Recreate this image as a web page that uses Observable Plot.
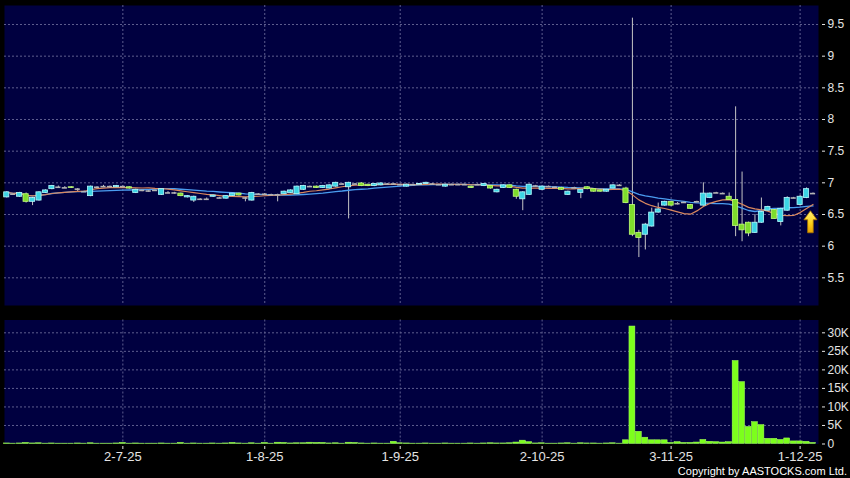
<!DOCTYPE html>
<html>
<head>
<meta charset="utf-8">
<script src="https://cdn.jsdelivr.net/npm/d3@7"></script>
<script src="https://cdn.jsdelivr.net/npm/@observablehq/plot@0.6"></script>
<style>
  html, body { margin: 0; padding: 0; background: #000; }
  #chart { position: relative; width: 850px; height: 478px; background: #000; overflow: hidden; }
  #price, #vol { position: absolute; left: 0; }
  #price { top: 0; }
  #vol { top: 312px; }
  #copy { position: absolute; right: 3px; top: 466px; font: 11px "Liberation Sans", Arial, sans-serif; color: #fff; line-height: 11px; white-space: nowrap; }
</style>
</head>
<body>
<div id="chart">
  <div id="price"></div>
  <div id="vol"></div>
  <div id="copy">Copyright by AASTOCKS.com Ltd.</div>
</div>
<script>
// ---- data (daily candles, index = trading day) ----
const open = [6.77,6.82,6.78,6.82,6.70,6.72,6.84,6.90,6.93,6.92,6.93,6.90,6.86,6.79,6.93,6.94,6.94,6.93,6.94,6.93,
6.84,6.88,6.87,6.88,6.81,6.84,6.84,6.83,6.77,6.72,6.74,6.74,6.78,6.76,6.75,6.79,6.83,6.76,6.72,6.82,
6.82,6.81,6.81,6.82,6.84,6.82,6.89,6.94,6.94,6.92,6.91,6.94,6.98,6.93,6.98,6.99,6.97,6.95,6.96,6.98,
6.98,6.97,6.94,6.97,6.97,6.98,6.98,6.97,6.94,6.97,6.97,6.97,6.94,6.97,6.95,6.95,6.85,6.92,6.96,6.89,
6.74,6.81,6.95,6.89,6.94,6.93,6.92,6.81,6.92,6.84,6.93,6.90,6.88,6.86,6.91,6.96,6.91,6.65,6.21,6.18,
6.31,6.53,6.64,6.70,6.67,6.69,6.65,6.70,6.64,6.76,6.84,6.83,6.78,6.73,6.34,6.37,6.21,6.37,6.56,6.57,
6.38,6.56,6.76,6.65,6.76,6.83];
const high = [6.86,6.83,6.85,6.84,6.77,6.86,6.89,6.96,6.95,6.94,6.94,6.91,6.87,6.95,6.94,6.96,6.95,6.96,6.95,6.94,
6.90,6.89,6.88,6.89,6.91,6.86,6.85,6.84,6.80,6.79,6.75,6.76,6.81,6.77,6.80,6.84,6.84,6.77,6.85,6.83,
6.83,6.82,6.82,6.87,6.89,6.95,6.96,6.95,6.95,6.96,6.97,7.01,6.99,7.01,6.99,7.00,6.98,6.99,7.00,6.99,
6.99,6.98,6.98,6.98,6.99,7.01,6.99,6.98,6.98,6.98,6.98,6.98,6.95,6.98,6.99,6.96,6.90,6.97,6.97,6.90,
6.86,6.98,6.96,6.95,6.95,6.94,6.93,6.87,6.93,6.90,6.94,6.91,6.89,6.90,6.97,6.97,6.93,9.60,6.25,6.36,
6.60,6.68,6.71,6.71,6.69,6.70,6.66,6.71,7.00,6.84,6.85,6.84,6.84,8.20,7.17,6.38,6.50,6.76,6.63,6.58,
6.60,6.78,6.77,6.80,6.92,6.84];
const low = [6.76,6.81,6.77,6.68,6.64,6.71,6.83,6.89,6.92,6.91,6.91,6.85,6.85,6.78,6.92,6.93,6.93,6.92,6.93,6.90,
6.83,6.86,6.85,6.87,6.80,6.83,6.82,6.78,6.76,6.69,6.73,6.72,6.77,6.75,6.74,6.78,6.79,6.70,6.71,6.81,
6.81,6.80,6.70,6.81,6.83,6.81,6.88,6.93,6.91,6.91,6.90,6.93,6.97,6.43,6.97,6.94,6.94,6.94,6.95,6.97,
6.97,6.96,6.93,6.96,6.96,6.97,6.97,6.96,6.93,6.96,6.96,6.96,6.91,6.96,6.94,6.90,6.84,6.91,6.91,6.74,
6.56,6.80,6.94,6.88,6.93,6.92,6.88,6.80,6.91,6.75,6.89,6.85,6.85,6.85,6.90,6.95,6.67,6.15,5.82,5.94,
6.30,6.52,6.63,6.63,6.65,6.68,6.58,6.69,6.63,6.75,6.83,6.82,6.72,6.15,6.07,6.15,6.20,6.36,6.55,6.43,
6.32,6.55,6.75,6.64,6.75,6.82];
const close = [6.85,6.82,6.84,6.70,6.76,6.85,6.88,6.95,6.93,6.92,6.92,6.90,6.86,6.94,6.93,6.94,6.94,6.95,6.94,6.91,
6.89,6.88,6.87,6.88,6.90,6.84,6.84,6.79,6.79,6.78,6.74,6.74,6.80,6.76,6.79,6.83,6.80,6.76,6.84,6.82,
6.82,6.81,6.81,6.86,6.88,6.94,6.95,6.94,6.92,6.95,6.96,7.00,6.98,7.00,6.98,6.95,6.95,6.98,6.99,6.98,
6.98,6.97,6.97,6.97,6.98,7.00,6.98,6.97,6.97,6.97,6.97,6.97,6.92,6.97,6.98,6.91,6.89,6.96,6.92,6.78,
6.85,6.97,6.95,6.94,6.94,6.93,6.89,6.86,6.92,6.89,6.90,6.86,6.86,6.89,6.96,6.96,6.68,6.18,6.13,6.34,
6.53,6.58,6.70,6.64,6.67,6.69,6.59,6.70,6.83,6.83,6.84,6.83,6.73,6.32,6.25,6.20,6.37,6.54,6.62,6.43,
6.59,6.76,6.76,6.78,6.90,6.83];
const volume = [150,100,150,300,150,200,100,150,100,100,100,150,100,200,100,100,100,150,300,100,
150,100,100,100,150,100,100,300,100,150,100,100,150,100,150,300,150,100,200,100,
300,100,350,300,150,200,200,350,300,300,150,200,100,350,300,150,100,150,100,100,
600,200,150,100,100,150,100,100,150,100,100,100,150,100,150,200,150,150,200,400,
900,500,150,200,100,100,150,200,100,200,150,150,100,150,200,100,1000,31700,3300,1700,
1000,1000,1000,300,500,300,300,400,1100,600,500,400,500,22400,16700,4600,5900,5100,1400,1400,
1100,1500,700,700,600,300];

const xTickIndex = [18, 40, 61, 83, 103, 123];
const xTickLabels = ["2-7-25", "1-8-25", "1-9-25", "2-10-25", "3-11-25", "1-12-25"];
const priceTicks = [5.5, 6, 6.5, 7, 7.5, 8, 8.5, 9, 9.5];
const priceTickLabels = ["5.5", "6", "6.5", "7", "7.5", "8", "8.5", "9", "9.5"];
const volTicks = [0, 5000, 10000, 15000, 20000, 25000, 30000];
const volTickLabels = ["0", "5K", "10K", "15K", "20K", "25K", "30K"];
const arrowMark = [{i: 124.6, y: 6.385}];

// ---- build table ----
const data = open.map((o, i) => ({i, open: o, high: high[i], low: low[i], close: close[i], vol: volume[i]}));
const N = data.length;
const xDomain = [-0.35, N - 0.15];

const navy = "#000040";
const gridColor = "#5e5e8e";
const cyanFill = "#3cd4e4", cyanStroke = "#b4fbff";
const greenFill = "#7edc2c", greenStroke = "#c4ff7a";
const wick = "#c4c4c4";
const font = "'Liberation Sans', Arial, sans-serif";

const up = data.filter(d => d.close > d.open);
const down = data.filter(d => d.close < d.open);
const doji = data.filter(d => d.close === d.open);
const hw = 0.4;

const arrowSymbol = {
  draw(ctx, size) {
    const r = Math.sqrt(size / Math.PI);
    const s = r / 11;
    ctx.moveTo(0, -11 * s);
    ctx.lineTo(6.5 * s, -2 * s);
    ctx.lineTo(2.8 * s, -2 * s);
    ctx.lineTo(2.8 * s, 11 * s);
    ctx.lineTo(-2.8 * s, 11 * s);
    ctx.lineTo(-2.8 * s, -2 * s);
    ctx.lineTo(-6.5 * s, -2 * s);
    ctx.closePath();
  }
};

const price = Plot.plot({
  width: 850, height: 312,
  marginLeft: 4, marginRight: 32, marginTop: 5, marginBottom: 7,
  style: {background: "#000", color: "#e4e4e4", fontFamily: font, fontSize: "12px", overflow: "visible"},
  x: {domain: xDomain, axis: null},
  y: {domain: [5.063, 9.80], axis: null},
  marks: [
    Plot.frame({fill: navy, stroke: "none"}),
    Plot.gridY(priceTicks, {stroke: gridColor, strokeOpacity: 1, strokeDasharray: "2,2"}),
    Plot.gridX(xTickIndex, {stroke: gridColor, strokeOpacity: 1, strokeDasharray: "2,2"}),
    Plot.ruleX(data, {x: "i", y1: "low", y2: "high", stroke: wick, strokeWidth: 1}),
    Plot.lineY(data, Plot.windowY({k: 20, anchor: "end", strict: false}, {x: "i", y: "close", stroke: "#4a9cf0", strokeWidth: 1.3})),
    Plot.lineY(data, Plot.windowY({k: 10, anchor: "end", strict: false}, {x: "i", y: "close", stroke: "#d9875e", strokeWidth: 1.2})),
    Plot.rect(up, {x1: d => d.i - hw, x2: d => d.i + hw, y1: "open", y2: "close", fill: cyanFill, stroke: cyanStroke, strokeWidth: 0.8}),
    Plot.rect(down, {x1: d => d.i - hw, x2: d => d.i + hw, y1: "open", y2: "close", fill: greenFill, stroke: greenStroke, strokeWidth: 0.8}),
    Plot.ruleY(doji, {y: "close", x1: d => d.i - hw, x2: d => d.i + hw, stroke: "#b4b4b4", strokeWidth: 1.6}),
    Plot.dot(arrowMark, {x: "i", y: "y", r: 11, symbol: arrowSymbol, fill: "url(#arrowGrad)", stroke: "#a87400", strokeWidth: 0.8}),
    Plot.axisY({ticks: priceTicks, anchor: "right", tickSize: 3, tickPadding: 3, dx: 3, fontSize: 12,
      tickFormat: d => priceTickLabels[priceTicks.indexOf(d)], label: null})
  ]
});

// gradient for the arrow
const svgP = d3.select(price.tagName === "svg" ? price : price.querySelector("svg"));
const grad = svgP.insert("defs", ":first-child").append("linearGradient")
  .attr("id", "arrowGrad").attr("x1", 0).attr("y1", 0).attr("x2", 0).attr("y2", 1);
grad.append("stop").attr("offset", "0%").attr("stop-color", "#fff27a");
grad.append("stop").attr("offset", "55%").attr("stop-color", "#ffd21a");
grad.append("stop").attr("offset", "100%").attr("stop-color", "#e8a200");
document.getElementById("price").appendChild(price);

const vol = Plot.plot({
  width: 850, height: 166,
  marginLeft: 4, marginRight: 32, marginTop: 7.5, marginBottom: 34.5,
  style: {background: "#000", color: "#e4e4e4", fontFamily: font, fontSize: "12px", overflow: "visible"},
  x: {domain: xDomain, axis: null},
  y: {domain: [0, 33460], axis: null},
  marks: [
    Plot.frame({fill: navy, stroke: "none"}),
    Plot.gridY(volTicks.filter(v => v > 0), {stroke: gridColor, strokeOpacity: 1, strokeDasharray: "2,2"}),
    Plot.gridX(xTickIndex, {stroke: gridColor, strokeOpacity: 1, strokeDasharray: "2,2"}),
    Plot.rectY(data, {x1: d => d.i - 0.46, x2: d => d.i + 0.46, y1: 0, y2: "vol", fill: "#7cff1c", stroke: "#a8ff60", strokeWidth: 0.5}),
    Plot.axisY({ticks: volTicks, anchor: "right", tickSize: 3, tickPadding: 3, dx: 3, fontSize: 12,
      tickFormat: d => volTickLabels[volTicks.indexOf(d)], label: null}),
    Plot.axisX({ticks: xTickIndex, anchor: "bottom", tickSize: 3, tickPadding: 2, dy: 2.5, fontSize: 13,
      tickFormat: d => xTickLabels[xTickIndex.indexOf(d)], label: null})
  ]
});
document.getElementById("vol").appendChild(vol);
</script>
</body>
</html>
